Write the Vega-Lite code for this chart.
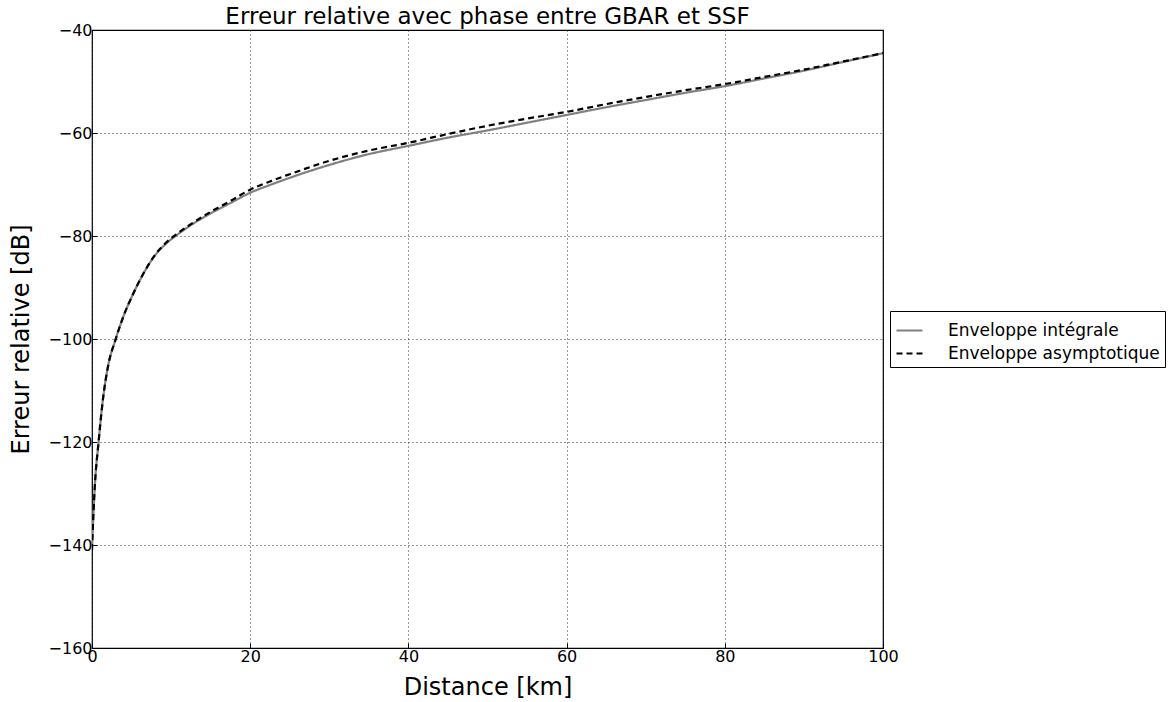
{
  "$schema": "https://vega.github.io/schema/vega-lite/v6.json",
  "width": 791,
  "height": 618,
  "autosize": {"type": "none"},
  "padding": {"left": 92, "top": 30, "right": 285, "bottom": 54},
  "background": "white",
  "config": {
    "font": "DejaVu Sans",
    "view": {"stroke": "black", "strokeWidth": 1.2},
    "axis": {
      "labelFont": "DejaVu Sans",
      "titleFont": "DejaVu Sans",
      "labelFontSize": 16,
      "labelColor": "black",
      "titleColor": "black",
      "titleFontWeight": "normal",
      "titleFontSize": 24,
      "domain": false,
      "tickColor": "black",
      "tickSize": -5,
      "grid": true,
      "gridColor": "black",
      "gridDash": [1, 3],
      "gridWidth": 1,
      "gridOpacity": 0.8
    }
  },
  "title": {
    "text": "Erreur relative avec phase entre GBAR et SSF",
    "font": "DejaVu Sans",
    "fontSize": 23,
    "fontWeight": "normal",
    "color": "black",
    "baseline": "bottom",
    "offset": -9,
    "dy": 21,
    "anchor": "middle"
  },
  "data": {
    "values": [
      {"d": 0, "v": -141, "s": "Enveloppe intégrale"},
      {"d": 0.15, "v": -135, "s": "Enveloppe intégrale"},
      {"d": 0.4, "v": -127.5, "s": "Enveloppe intégrale"},
      {"d": 0.8, "v": -120.5, "s": "Enveloppe intégrale"},
      {"d": 1.4, "v": -111.5, "s": "Enveloppe intégrale"},
      {"d": 2, "v": -105.5, "s": "Enveloppe intégrale"},
      {"d": 3, "v": -100, "s": "Enveloppe intégrale"},
      {"d": 4, "v": -95.5, "s": "Enveloppe intégrale"},
      {"d": 5, "v": -91.9, "s": "Enveloppe intégrale"},
      {"d": 6.5, "v": -87.3, "s": "Enveloppe intégrale"},
      {"d": 8, "v": -83.7, "s": "Enveloppe intégrale"},
      {"d": 9.5, "v": -81.3, "s": "Enveloppe intégrale"},
      {"d": 11, "v": -79.5, "s": "Enveloppe intégrale"},
      {"d": 12.5, "v": -77.9, "s": "Enveloppe intégrale"},
      {"d": 15, "v": -75.6, "s": "Enveloppe intégrale"},
      {"d": 17.5, "v": -73.6, "s": "Enveloppe intégrale"},
      {"d": 20, "v": -71.6, "s": "Enveloppe intégrale"},
      {"d": 22.5, "v": -70.1, "s": "Enveloppe intégrale"},
      {"d": 25, "v": -68.7, "s": "Enveloppe intégrale"},
      {"d": 30, "v": -66.2, "s": "Enveloppe intégrale"},
      {"d": 35, "v": -64.1, "s": "Enveloppe intégrale"},
      {"d": 40, "v": -62.5, "s": "Enveloppe intégrale"},
      {"d": 45, "v": -60.9, "s": "Enveloppe intégrale"},
      {"d": 50, "v": -59.5, "s": "Enveloppe intégrale"},
      {"d": 55, "v": -58.0, "s": "Enveloppe intégrale"},
      {"d": 60, "v": -56.5, "s": "Enveloppe intégrale"},
      {"d": 65, "v": -55.0, "s": "Enveloppe intégrale"},
      {"d": 70, "v": -53.6, "s": "Enveloppe intégrale"},
      {"d": 75, "v": -52.2, "s": "Enveloppe intégrale"},
      {"d": 80, "v": -50.9, "s": "Enveloppe intégrale"},
      {"d": 85, "v": -49.4, "s": "Enveloppe intégrale"},
      {"d": 90, "v": -47.9, "s": "Enveloppe intégrale"},
      {"d": 95, "v": -46.2, "s": "Enveloppe intégrale"},
      {"d": 100, "v": -44.5, "s": "Enveloppe intégrale"},
      {"d": 0, "v": -141, "s": "Enveloppe asymptotique"},
      {"d": 0.15, "v": -135, "s": "Enveloppe asymptotique"},
      {"d": 0.4, "v": -127.5, "s": "Enveloppe asymptotique"},
      {"d": 0.8, "v": -120.5, "s": "Enveloppe asymptotique"},
      {"d": 1.4, "v": -111.5, "s": "Enveloppe asymptotique"},
      {"d": 2, "v": -105.5, "s": "Enveloppe asymptotique"},
      {"d": 3, "v": -100, "s": "Enveloppe asymptotique"},
      {"d": 4, "v": -95.5, "s": "Enveloppe asymptotique"},
      {"d": 5, "v": -91.9, "s": "Enveloppe asymptotique"},
      {"d": 6.5, "v": -87.3, "s": "Enveloppe asymptotique"},
      {"d": 8, "v": -83.6, "s": "Enveloppe asymptotique"},
      {"d": 9.5, "v": -81.1, "s": "Enveloppe asymptotique"},
      {"d": 11, "v": -79.3, "s": "Enveloppe asymptotique"},
      {"d": 12.5, "v": -77.7, "s": "Enveloppe asymptotique"},
      {"d": 15, "v": -75.3, "s": "Enveloppe asymptotique"},
      {"d": 17.5, "v": -73.2, "s": "Enveloppe asymptotique"},
      {"d": 20, "v": -71.0, "s": "Enveloppe asymptotique"},
      {"d": 22.5, "v": -69.4, "s": "Enveloppe asymptotique"},
      {"d": 25, "v": -68.0, "s": "Enveloppe asymptotique"},
      {"d": 30, "v": -65.4, "s": "Enveloppe asymptotique"},
      {"d": 35, "v": -63.4, "s": "Enveloppe asymptotique"},
      {"d": 40, "v": -61.9, "s": "Enveloppe asymptotique"},
      {"d": 45, "v": -60.2, "s": "Enveloppe asymptotique"},
      {"d": 50, "v": -58.6, "s": "Enveloppe asymptotique"},
      {"d": 55, "v": -57.2, "s": "Enveloppe asymptotique"},
      {"d": 60, "v": -55.9, "s": "Enveloppe asymptotique"},
      {"d": 65, "v": -54.4, "s": "Enveloppe asymptotique"},
      {"d": 70, "v": -53.0, "s": "Enveloppe asymptotique"},
      {"d": 75, "v": -51.7, "s": "Enveloppe asymptotique"},
      {"d": 80, "v": -50.5, "s": "Enveloppe asymptotique"},
      {"d": 85, "v": -49.1, "s": "Enveloppe asymptotique"},
      {"d": 90, "v": -47.7, "s": "Enveloppe asymptotique"},
      {"d": 95, "v": -46.1, "s": "Enveloppe asymptotique"},
      {"d": 100, "v": -44.5, "s": "Enveloppe asymptotique"}
    ]
  },
  "mark": {"type": "line", "strokeWidth": 2.2, "clip": true, "interpolate": "monotone"},
  "encoding": {
    "x": {
      "field": "d",
      "type": "quantitative",
      "title": "Distance [km]",
      "scale": {"domain": [0, 100], "nice": false},
      "axis": {"values": [0, 20, 40, 60, 80, 100], "labelPadding": 5, "titlePadding": 11, "labelFlush": false}
    },
    "y": {
      "field": "v",
      "type": "quantitative",
      "title": "Erreur relative [dB]",
      "scale": {"domain": [-160, -40], "nice": false},
      "axis": {"values": [-160, -140, -120, -100, -80, -60, -40], "labelPadding": 5, "titlePadding": 15, "labelFlush": false}
    },
    "color": {
      "field": "s",
      "type": "nominal",
      "sort": ["Enveloppe intégrale", "Enveloppe asymptotique"],
      "scale": {"domain": ["Enveloppe intégrale", "Enveloppe asymptotique"], "range": ["#808080", "#000000"]},
      "legend": {
        "title": null,
        "orient": "none",
        "legendX": 798,
        "legendY": 281,
        "symbolType": "stroke",
        "symbolSize": 676,
        "symbolStrokeWidth": 2.2,
        "labelFontSize": 17,
        "labelFont": "DejaVu Sans",
        "labelColor": "black",
        "labelLimit": 400,
        "strokeColor": "black",
        "fillColor": "white",
        "padding": 5,
        "rowPadding": 0,
        "labelOffset": 24,
        "cornerRadius": 0
      }
    },
    "strokeDash": {
      "field": "s",
      "type": "nominal",
      "sort": ["Enveloppe intégrale", "Enveloppe asymptotique"],
      "scale": {"domain": ["Enveloppe intégrale", "Enveloppe asymptotique"], "range": [[1, 0], [6, 4]]},
      "legend": null
    },
    "order": {"field": "d"}
  }
}
